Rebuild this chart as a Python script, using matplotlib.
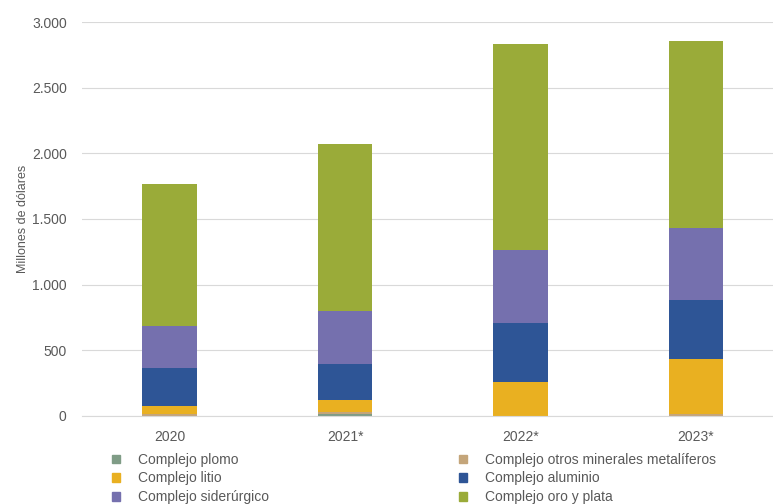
import numpy as np
import matplotlib
matplotlib.use("Agg")
import matplotlib.pyplot as plt
from matplotlib.patches import Patch
from matplotlib.ticker import FuncFormatter

plt.rcParams['font.family'] = ['Liberation Sans', 'DejaVu Sans']

years = ['2020', '2021*', '2022*', '2023*']
plomo = [0, 10, 0, 0]
otros = [12, 20, 0, 13]
litio = [60, 94, 259, 418]
aluminio = [295, 274, 451, 452]
siderurgico = [320, 403, 553, 548]
oro_plata = [1079, 1269, 1568, 1423]

series = [
    ('Complejo plomo', plomo, '#7f9c86'),
    ('Complejo otros minerales metalíferos', otros, '#c4a57a'),
    ('Complejo litio', litio, '#e9b021'),
    ('Complejo aluminio', aluminio, '#2e5596'),
    ('Complejo siderúrgico', siderurgico, '#7570ae'),
    ('Complejo oro y plata', oro_plata, '#9aab39'),
]

fig = plt.figure(figsize=(7.73, 5.04), dpi=100)
ax = fig.add_axes([0.106, 0.175, 0.894, 0.781])

x = np.arange(len(years))
bottom = np.zeros(len(years))
for name, vals, col in series:
    ax.bar(x, vals, 0.31, bottom=bottom, color=col, edgecolor='none', label=name)
    bottom += np.array(vals)

ax.set_ylim(0, 3000)
ax.set_xlim(-0.5, 3.44)
ax.set_yticks(np.arange(0, 3001, 500))
ax.yaxis.set_major_formatter(FuncFormatter(lambda v, p: f'{int(v):,}'.replace(',', '.')))
ax.set_xticks(x)
ax.set_xticklabels(years)
ax.grid(axis='y', color='#d9d9d9', lw=0.8)
ax.set_axisbelow(True)
for s in ['top', 'right', 'left']:
    ax.spines[s].set_visible(False)
ax.spines['bottom'].set_color('#d9d9d9')
ax.tick_params(axis='y', length=0, pad=11, labelsize=10, labelcolor='#595959')
ax.tick_params(axis='x', length=0, pad=10, labelsize=10, labelcolor='#595959')
ax.set_ylabel('Millones de dólares', fontsize=9, color='#595959', labelpad=2)

# legend reads across rows: matplotlib fills by column, so reorder
order = [0, 2, 4, 1, 3, 5]
handles = [Patch(color=series[i][2], label=series[i][0]) for i in order]
fig.legend(handles=handles, ncol=2, loc='upper left',
           bbox_to_anchor=(0.138, 0.113), frameon=False, fontsize=10,
           handlelength=0.55, handleheight=0.55, handletextpad=1.3,
           columnspacing=13.7, labelspacing=0.35, labelcolor='#595959',
           borderaxespad=0)

plt.savefig('out.png', dpi=100)
